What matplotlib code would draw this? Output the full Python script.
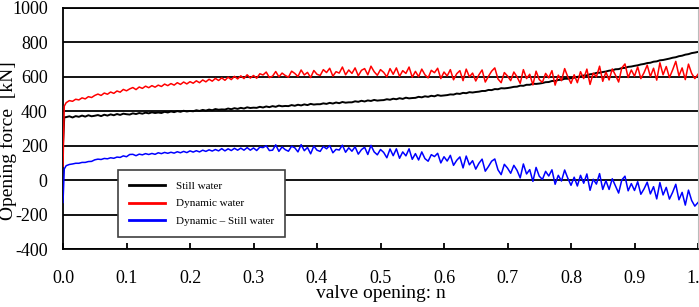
"""
Opening force vs. valve opening, still water against dynamic water.

The "Dynamic - Still water" curve is the difference of the two measured
series, so only those two are kept as data.
"""

import matplotlib
matplotlib.use("Agg")
import matplotlib.pyplot as plt
import numpy as np


# sample grid of the valve opening n (two extra points at the very start)
N_START = [0.0, 0.002]
N_STEP = 0.005
N_COUNT = 200

# opening force in still water [kN]
STILL_START = [210, 365]
STILL_WATER = [
    366, 371, 364, 372, 368, 375, 369, 377, 371, 374,
    378, 372, 380, 375, 382, 377, 384, 379, 386, 383,
    381, 388, 384, 390, 386, 392, 388, 394, 390, 393,
    390, 397, 393, 399, 395, 401, 397, 403, 399, 402,
    400, 406, 402, 408, 404, 410, 406, 413, 409, 411,
    410, 416, 412, 418, 414, 420, 416, 423, 419, 421,
    420, 426, 422, 428, 424, 430, 426, 433, 429, 431,
    430, 436, 432, 438, 434, 440, 436, 443, 439, 441,
    441, 446, 443, 449, 445, 451, 447, 454, 450, 452,
    452, 458, 455, 461, 457, 463, 460, 466, 462, 464,
    465, 470, 467, 473, 470, 476, 472, 479, 475, 477,
    478, 484, 481, 487, 484, 490, 487, 494, 490, 492,
    494, 498, 497, 503, 501, 507, 505, 511, 509, 512,
    514, 518, 518, 524, 523, 529, 528, 534, 533, 535,
    538, 542, 543, 549, 548, 554, 554, 560, 559, 561,
    564, 569, 570, 576, 576, 582, 583, 589, 589, 592,
    595, 600, 602, 608, 609, 615, 617, 623, 624, 628,
    631, 636, 638, 644, 645, 651, 652, 658, 660, 664,
    667, 672, 675, 680, 682, 688, 690, 696, 698, 702,
    706, 711, 714, 720, 723, 729, 732, 738, 741, 745,
]

# opening force in dynamic water [kN]
DYNAMIC_START = [80, 430]
DYNAMIC_WATER = [
    450, 462, 458, 470, 466, 478, 472, 485, 480, 492,
    500, 492, 506, 499, 512, 504, 518, 511, 527, 519,
    530, 538, 526, 541, 533, 546, 537, 549, 540, 552,
    544, 558, 549, 561, 552, 566, 556, 570, 559, 572,
    563, 577, 566, 582, 571, 586, 575, 591, 579, 594,
    580, 598, 584, 603, 588, 606, 590, 612, 593, 608,
    592, 618, 611, 628, 596, 604, 631, 600, 622, 608,
    598, 633, 620, 602, 640, 611, 626, 596, 637, 615,
    608, 642, 625, 650, 604, 630, 622, 657, 612, 640,
    620, 652, 606, 638, 648, 612, 662, 630, 609, 642,
    626, 600, 648, 615, 652, 603, 636, 620, 657, 598,
    632, 601, 645, 612, 594, 638, 624, 650, 590, 628,
    605, 642, 583, 618, 636, 578, 645, 600, 622, 576,
    612, 640, 570, 603, 633, 652, 588, 566, 625, 605,
    578, 628, 600, 562, 642, 590, 615, 553, 633, 584,
    568, 620, 594, 636, 552, 610, 578, 648, 600, 562,
    612, 566, 630, 590, 645, 556, 622, 600, 662, 574,
    628, 582, 646, 610, 570, 652, 675, 596, 640, 604,
    658, 590, 624, 668, 602, 650, 581, 682, 612, 660,
    596, 640, 690, 606, 652, 584, 674, 620, 590, 615,
]

SERIES_LABELS = ["Still water", "Dynamic water", "Dynamic \u2013 Still water"]
SERIES_COLORS = ["black", "#ff0000", "#0000ff"]

X_TICKS = [0.0, 0.1, 0.2, 0.3, 0.4, 0.5, 0.6, 0.7, 0.8, 0.9, 1.0]
Y_TICKS = [-400, -200, 0, 200, 400, 600, 800, 1000]


def build_series():
    n = np.concatenate([N_START, np.arange(1, N_COUNT + 1) * N_STEP])
    still = np.array(STILL_START + STILL_WATER, dtype=float)
    dynamic = np.array(DYNAMIC_START + DYNAMIC_WATER, dtype=float)
    return n, still, dynamic, dynamic - still


def main():
    plt.rcParams["font.family"] = ["Liberation Serif", "DejaVu Serif"]
    plt.rcParams["axes.unicode_minus"] = False

    n, still, dynamic, diff = build_series()

    fig = plt.figure(figsize=(6.99, 3.07), dpi=100)
    ax = fig.add_axes([63 / 699, 1 - 249 / 307, 635 / 699, 241 / 307])

    widths = [1.4, 1.1, 1.1]
    for values, color, label, lw in zip([still, dynamic, diff], SERIES_COLORS,
                                        SERIES_LABELS, widths):
        ax.plot(n, values, color=color, linewidth=lw, label=label, zorder=3)

    ax.set_xlim(0, 1.0)
    ax.set_ylim(-400, 1000)
    ax.set_xticks(X_TICKS)
    ax.set_xticklabels([f"{t:.1f}" for t in X_TICKS])
    ax.set_yticks(Y_TICKS)
    ax.yaxis.grid(True, color="black", linewidth=1.3)
    ax.set_axisbelow(True)

    ax.tick_params(axis="x", direction="in", length=4, width=1.3,
                   labelsize=13, pad=15)
    ax.tick_params(axis="y", length=0, labelsize=13, pad=11)

    for side in ["left", "bottom", "top"]:
        ax.spines[side].set_color("black")
        ax.spines[side].set_linewidth(1.3)
    ax.spines["right"].set_color("#bbbbbb")

    ax.set_xlabel("valve opening: n", fontsize=14, labelpad=-1)
    ax.set_ylabel("Opening force  [kN]", fontsize=14)
    ax.yaxis.set_label_coords(-0.072, 0.45)

    leg = ax.legend(
        loc="upper left",
        bbox_to_anchor=(118 / 699, 1 - 170 / 307),
        bbox_transform=fig.transFigure,
        borderaxespad=0,
        fontsize=8,
        fancybox=False,
        framealpha=1,
        edgecolor="#404040",
        handlelength=3.2,
        handletextpad=1.0,
        labelspacing=0.7,
        borderpad=1.0,
    )
    leg.get_frame().set_linewidth(1.2)
    for line in leg.get_lines():
        line.set_linewidth(2.0)
    leg.set_zorder(5)

    fig.savefig("out.png", dpi=100)
    plt.close(fig)


if __name__ == "__main__":
    main()
